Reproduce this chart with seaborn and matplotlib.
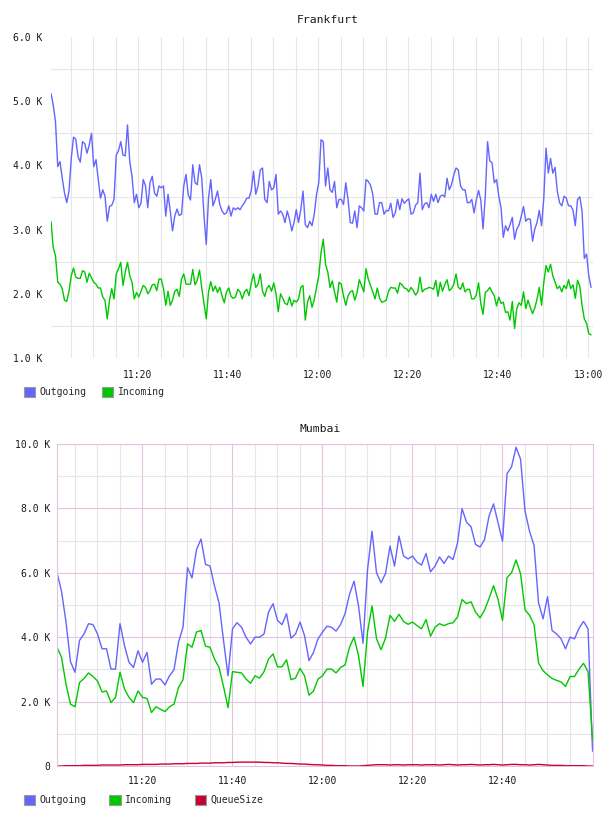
import pandas as pd
import matplotlib
matplotlib.use('Agg')
import matplotlib.pyplot as plt
import matplotlib.dates as mdates
from matplotlib.patches import Patch
from matplotlib.ticker import FixedLocator
import seaborn as sns

# data (values in K)
# -----------------------------------------------------------------------------
fra_start = '2024-01-01 11:00:40'
fra_step = '30s'
fra_outgoing = [
    5.12, 4.94, 4.68, 3.98, 4.06, 3.80, 3.57, 3.42, 3.60, 4.11,
    4.44, 4.41, 4.14, 4.05, 4.37, 4.34, 4.19, 4.32, 4.50, 3.98,
    4.09, 3.78, 3.49, 3.62, 3.52, 3.13, 3.36, 3.38, 3.47, 4.16,
    4.23, 4.37, 4.16, 4.15, 4.63, 4.06, 3.83, 3.42, 3.55, 3.34,
    3.41, 3.78, 3.68, 3.34, 3.73, 3.83, 3.57, 3.52, 3.68, 3.65,
    3.68, 3.21, 3.55, 3.29, 2.98, 3.21, 3.32, 3.22, 3.24, 3.68,
    3.86,
    3.54, 3.46, 4.01, 3.73, 3.70, 4.01, 3.80, 3.21, 2.77, 3.49,
    3.78, 3.37, 3.47, 3.60, 3.39, 3.29, 3.24, 3.26, 3.37, 3.21,
    3.34, 3.31, 3.34, 3.31, 3.37, 3.42, 3.49, 3.49, 3.61, 3.91,
    3.55, 3.68, 3.93, 3.96, 3.47, 3.42, 3.75, 3.62, 3.65, 3.86,
    3.24, 3.29, 3.24, 3.11, 3.29, 3.16, 2.98, 3.11, 3.31, 3.11,
    3.31, 3.60, 3.08, 3.03, 3.13, 3.06, 3.24, 3.55, 3.73, 4.40,
    4.37, 3.68,
    3.96, 3.62, 3.58, 3.75, 3.34, 3.47, 3.47, 3.39, 3.73, 3.47,
    3.11, 3.10, 3.29, 3.03, 3.37, 3.34, 3.29, 3.78, 3.75, 3.69,
    3.55, 3.24, 3.24, 3.42, 3.42, 3.24, 3.30, 3.29, 3.41, 3.19,
    3.26, 3.47, 3.31, 3.48, 3.41, 3.45, 3.48, 3.24, 3.26, 3.38,
    3.42, 3.88, 3.31, 3.40, 3.42, 3.34, 3.55, 3.44, 3.55, 3.42,
    3.52, 3.54, 3.51, 3.80, 3.62, 3.70, 3.85, 3.96, 3.93, 3.68,
    3.62,
    3.62, 3.42, 3.42, 3.47, 3.26, 3.46, 3.61, 3.46, 3.01, 3.52,
    4.37, 4.07, 4.04, 3.73, 3.78, 3.52, 3.34, 2.88, 3.06, 2.98,
    3.08, 3.19, 2.85, 3.01, 3.07, 3.21, 3.36, 3.13, 3.17, 3.16,
    2.82, 3.01, 3.11, 3.30, 3.06, 3.49, 4.27, 3.88, 4.11, 3.88,
    3.97, 3.60, 3.42, 3.37, 3.52, 3.49, 3.37, 3.37, 3.30, 3.06,
    3.47, 3.51, 3.29, 2.55, 2.62, 2.28, 2.10,
]
fra_incoming = [
    3.13, 2.72, 2.59, 2.18, 2.15, 2.08, 1.90, 1.88, 2.04, 2.28,
    2.40, 2.26, 2.24, 2.24, 2.36, 2.34, 2.18, 2.32, 2.25, 2.18,
    2.15, 2.09, 2.09, 1.95, 1.90, 1.61, 1.90, 2.08, 1.92, 2.31,
    2.39, 2.49, 2.13, 2.34, 2.49, 2.28, 2.18, 1.92, 2.02, 1.95,
    2.04, 2.13, 2.10, 2.00, 2.05, 2.14, 2.15, 2.05, 2.23, 2.23,
    2.08, 1.82, 2.04, 1.82, 1.90, 2.04, 2.07, 1.96, 2.23, 2.31,
    2.15,
    2.15, 2.15, 2.38, 2.14, 2.21, 2.37, 2.09, 1.85, 1.61, 2.03,
    2.19, 2.04, 2.12, 2.02, 2.10, 1.97, 1.86, 2.03, 2.09, 1.96,
    1.93, 1.95, 2.07, 2.03, 1.92, 2.03, 2.07, 1.97, 2.17, 2.31,
    2.10, 2.15, 2.31, 2.04, 1.96, 2.09, 2.13, 2.04, 2.17, 2.00,
    1.72, 2.00, 1.93, 1.85, 1.83, 1.95, 1.81, 1.90, 1.87, 1.92,
    2.10, 2.13, 1.59, 1.87, 1.97, 1.79, 1.91, 2.10, 2.28, 2.64,
    2.85, 2.46,
    2.34, 2.10, 2.20, 2.03, 1.87, 2.18, 2.15, 1.97, 1.82, 1.97,
    2.03, 2.05, 1.90, 2.02, 2.22, 2.13, 2.03, 2.39, 2.23, 2.13,
    2.03, 1.92, 2.09, 1.93, 1.87, 1.88, 1.90, 2.04, 2.10, 2.09,
    2.09, 2.01, 2.17, 2.14, 2.09, 2.08, 2.03, 2.10, 2.05, 1.98,
    2.03, 2.26, 2.03, 2.07, 2.08, 2.10, 2.09, 2.07, 2.21, 1.96,
    2.18, 2.04, 2.14, 2.22, 2.05, 2.08, 2.15, 2.31, 2.10, 2.07,
    2.17,
    2.03, 2.07, 2.07, 1.92, 1.92, 1.98, 2.17, 1.85, 1.68, 2.02,
    2.05, 2.10, 2.03, 1.97, 1.81, 1.95, 1.85, 1.87, 1.71, 1.72,
    1.59, 1.88, 1.46, 1.77, 1.86, 1.82, 2.03, 1.77, 1.90, 1.79,
    1.69, 1.78, 1.92, 2.10, 1.82, 2.18, 2.44, 2.34, 2.46, 2.28,
    2.18, 2.08, 2.12, 2.03, 2.13, 2.08, 2.22, 2.08, 2.14, 1.93,
    2.21, 2.12, 1.82, 1.61, 1.54, 1.38, 1.36,
]

mum_start = '2024-01-01 11:01:06'
mum_step = '60s'
mum_outgoing = [
    6.00, 5.43, 4.47, 3.24, 2.91, 3.90, 4.10, 4.42, 4.39, 4.10,
    3.64, 3.64, 3.01, 3.01, 4.42, 3.74, 3.22, 3.06, 3.58, 3.22,
    3.53, 2.54, 2.70, 2.70, 2.52, 2.80, 2.99, 3.84, 4.31, 6.16,
    5.84, 6.72, 7.05, 6.26, 6.21, 5.59, 5.07, 3.90, 2.80, 4.26,
    4.45, 4.31, 4.00, 3.79, 4.00, 4.00, 4.10, 4.78, 5.04, 4.52,
    4.39, 4.73, 3.97, 4.10, 4.47, 4.05, 3.27, 3.53, 3.95, 4.16,
    4.34, 4.31, 4.19, 4.39, 4.73, 5.33, 5.74, 4.97, 3.81, 6.10,
    7.29, 6.00, 5.69, 5.98, 6.83, 6.21, 7.14, 6.52, 6.43, 6.52,
    6.33, 6.24, 6.60, 6.03, 6.21, 6.49, 6.29, 6.52, 6.41, 6.93,
    7.99, 7.57, 7.43, 6.88, 6.80, 7.03, 7.76, 8.14, 7.55, 6.98,
    9.08, 9.29, 9.90, 9.53, 7.91, 7.29, 6.85, 5.07, 4.57, 5.26,
    4.21, 4.10, 3.95, 3.64, 4.00, 3.95, 4.28, 4.49, 4.26, 0.46,
]
mum_incoming = [
    3.69, 3.38, 2.54, 1.92, 1.84, 2.59, 2.72, 2.89, 2.78, 2.64,
    2.30, 2.33, 1.97, 2.13, 2.91, 2.39, 2.13, 1.97, 2.33, 2.13,
    2.10, 1.66, 1.84, 1.76, 1.69, 1.84, 1.92, 2.44, 2.68, 3.79,
    3.69, 4.16, 4.21, 3.72, 3.69, 3.32, 3.06, 2.47, 1.81, 2.93,
    2.91, 2.89, 2.70, 2.57, 2.80, 2.73, 2.93, 3.32, 3.48, 3.08,
    3.08, 3.30, 2.68, 2.73, 3.03, 2.80, 2.20, 2.33, 2.70, 2.80,
    3.01, 3.01, 2.89, 3.06, 3.14, 3.69, 4.00, 3.43, 2.47, 4.16,
    4.97, 3.95, 3.61, 3.97, 4.68, 4.49, 4.71, 4.49, 4.40, 4.47,
    4.36, 4.26, 4.55, 4.03, 4.31, 4.42, 4.36, 4.42, 4.45, 4.63,
    5.17, 5.04, 5.10, 4.78, 4.60, 4.84, 5.20, 5.60, 5.17, 4.52,
    5.85, 6.00, 6.40, 5.97, 4.85, 4.68, 4.39, 3.20, 2.96, 2.83,
    2.72, 2.66, 2.61, 2.47, 2.78, 2.78, 3.01, 3.19, 2.93, 0.82,
]
mum_queue = [
    0.00, 0.00, 0.01, 0.01, 0.01, 0.01, 0.02, 0.02, 0.02, 0.02,
    0.03, 0.03, 0.03, 0.03, 0.03, 0.04, 0.04, 0.04, 0.04, 0.05,
    0.05, 0.05, 0.05, 0.06, 0.06, 0.06, 0.07, 0.07, 0.07, 0.08,
    0.08, 0.08, 0.09, 0.09, 0.09, 0.10, 0.10, 0.10, 0.11, 0.11,
    0.12, 0.12, 0.12, 0.12, 0.12, 0.12, 0.11, 0.11, 0.10, 0.10,
    0.09, 0.08, 0.08, 0.07, 0.06, 0.06, 0.05, 0.04, 0.04, 0.03,
    0.02, 0.02, 0.01, 0.01, 0.01, 0.00, 0.00, 0.00, 0.01, 0.02,
    0.03, 0.04, 0.04, 0.04, 0.03, 0.04, 0.04, 0.03, 0.04, 0.04,
    0.04, 0.03, 0.04, 0.04, 0.04, 0.03, 0.04, 0.05, 0.04, 0.03,
    0.04, 0.04, 0.05, 0.04, 0.03, 0.04, 0.04, 0.05, 0.04, 0.03,
    0.04, 0.05, 0.05, 0.04, 0.04, 0.03, 0.04, 0.05, 0.04, 0.03,
    0.02, 0.02, 0.02, 0.01, 0.01, 0.01, 0.01, 0.01, 0.00, 0.00,
]

fra_yticks = [1, 2, 3, 4, 5, 6]
fra_ylabels = ['1.0 K', '2.0 K', '3.0 K', '4.0 K', '5.0 K', '6.0 K']
mum_yticks = [0, 2, 4, 6, 8, 10]
mum_ylabels = ['0', '2.0 K', '4.0 K', '6.0 K', '8.0 K', '10.0 K']
mum_xticks = ['11:20', '11:40', '12:00', '12:20', '12:40']
# -----------------------------------------------------------------------------

# style
# -----------------------------------------------------------------------------
sns.set_style('white')
plt.rcParams['font.family'] = ['DejaVu Sans Mono']
plt.rcParams['font.size'] = 7

palette = {'Outgoing': '#6464ff',
           'Incoming': '#00c800',
           'QueueSize': '#c80032',
           }
grid_minor = '#e6e6e6'
grid_major = '#e0c4e0'
text_col = '#1a1a1a'
day = '2024-01-01 '
# -----------------------------------------------------------------------------


def long_frame(start, step, series):
    parts = []
    for name, values in series.items():
        t = pd.date_range(start, periods=len(values), freq=step)
        parts.append(pd.DataFrame({'time': t, 'value': values, 'series': name}))
    return pd.concat(parts, ignore_index=True)


df_fra = long_frame(fra_start, fra_step,
                    {'Outgoing': fra_outgoing, 'Incoming': fra_incoming})
df_mum = long_frame(mum_start, mum_step,
                    {'Outgoing': mum_outgoing, 'Incoming': mum_incoming,
                     'QueueSize': mum_queue})

fig = plt.figure(figsize=(6.08, 8.16), dpi=100)
W, H = 608, 816
ax1 = fig.add_axes([51 / W, 1 - 358 / H, 542 / W, 321 / H])
ax2 = fig.add_axes([57 / W, 1 - 766 / H, 536 / W, 322 / H])

# Frankfurt
# -----------------------------------------------------------------------------
sns.lineplot(data=df_fra, x='time', y='value', hue='series',
             palette=palette, estimator=None, legend=False,
             linewidth=1.0, ax=ax1)
ax1.set_xlim(pd.Timestamp(day + '11:00:40'), pd.Timestamp(day + '13:01:06'))
ax1.set_ylim(1, 6)
ax1.xaxis.set_major_locator(mdates.MinuteLocator(byminute=[0, 20, 40]))
ax1.xaxis.set_minor_locator(mdates.MinuteLocator(byminute=range(0, 60, 5)))
ax1.xaxis.set_major_formatter(mdates.DateFormatter('%H:%M'))
ax1.set_yticks(fra_yticks)
ax1.set_yticklabels(fra_ylabels)
ax1.yaxis.set_minor_locator(FixedLocator([1.5, 2.5, 3.5, 4.5, 5.5]))
ax1.grid(which='both', axis='x', color=grid_minor, lw=0.8)
ax1.grid(which='minor', axis='y', color=grid_minor, lw=0.8)
ax1.grid(which='major', axis='y', visible=False)
ax1.tick_params(axis='x', which='both', length=0, pad=9, labelsize=7,
                colors=text_col)
ax1.tick_params(axis='y', which='both', length=0, pad=6, labelsize=7,
                colors=text_col)
for s in ax1.spines.values():
    s.set_visible(False)
ax1.set_xlabel('')
ax1.set_ylabel('')
ax1.set_axisbelow(True)
fig.text(328 / W, 1 - 20 / H, 'Frankfurt', ha='center', va='center',
         fontsize=8.2, color=text_col)

handles = [Patch(facecolor=palette[n], edgecolor='#999999', lw=0.8)
           for n in ['Outgoing', 'Incoming']]
fig.legend(handles, ['Outgoing', 'Incoming'], loc='center left',
           bbox_to_anchor=(24 / W, 1 - 392 / H), ncol=2, frameon=False,
           fontsize=7, handlelength=1.15, handleheight=1.15,
           handletextpad=0.45, columnspacing=1.6, borderpad=0,
           borderaxespad=0)
# -----------------------------------------------------------------------------

# Mumbai
# -----------------------------------------------------------------------------
sns.lineplot(data=df_mum, x='time', y='value', hue='series',
             palette=palette, estimator=None, legend=False,
             linewidth=1.0, ax=ax2)
ax2.set_xlim(pd.Timestamp(day + '11:01:06'), pd.Timestamp(day + '13:00:12'))
ax2.set_ylim(0, 10)
ax2.xaxis.set_major_locator(
    FixedLocator([mdates.date2num(pd.Timestamp(day + t)) for t in mum_xticks]))
ax2.xaxis.set_minor_locator(mdates.MinuteLocator(byminute=range(5, 60, 5)))
ax2.xaxis.set_major_formatter(mdates.DateFormatter('%H:%M'))
ax2.set_yticks(mum_yticks)
ax2.set_yticklabels(mum_ylabels)
ax2.yaxis.set_minor_locator(FixedLocator([1, 3, 5, 7, 9]))
ax2.grid(which='minor', axis='both', color=grid_minor, lw=0.8)
ax2.grid(which='major', axis='both', color=grid_major, lw=0.8)
ax2.tick_params(axis='x', which='both', length=0, pad=7.5, labelsize=7,
                colors=text_col)
ax2.tick_params(axis='y', which='both', length=0, pad=5, labelsize=7,
                colors=text_col)
for s in ax2.spines.values():
    s.set_color(grid_major)
    s.set_linewidth(0.8)
ax2.set_xlabel('')
ax2.set_ylabel('')
ax2.set_axisbelow(True)
fig.text(320 / W, 1 - 429 / H, 'Mumbai', ha='center', va='center',
         fontsize=8.2, color=text_col)

handles = [Patch(facecolor=palette[n], edgecolor='#999999', lw=0.8)
           for n in ['Outgoing', 'Incoming', 'QueueSize']]
fig.legend(handles, ['Outgoing', 'Incoming', 'QueueSize'], loc='center left',
           bbox_to_anchor=(24 / W, 1 - 800 / H), ncol=3, frameon=False,
           fontsize=7, handlelength=1.15, handleheight=1.15,
           handletextpad=0.45, columnspacing=2.35, borderpad=0,
           borderaxespad=0)
# -----------------------------------------------------------------------------

plt.savefig('out.png', dpi=100)
